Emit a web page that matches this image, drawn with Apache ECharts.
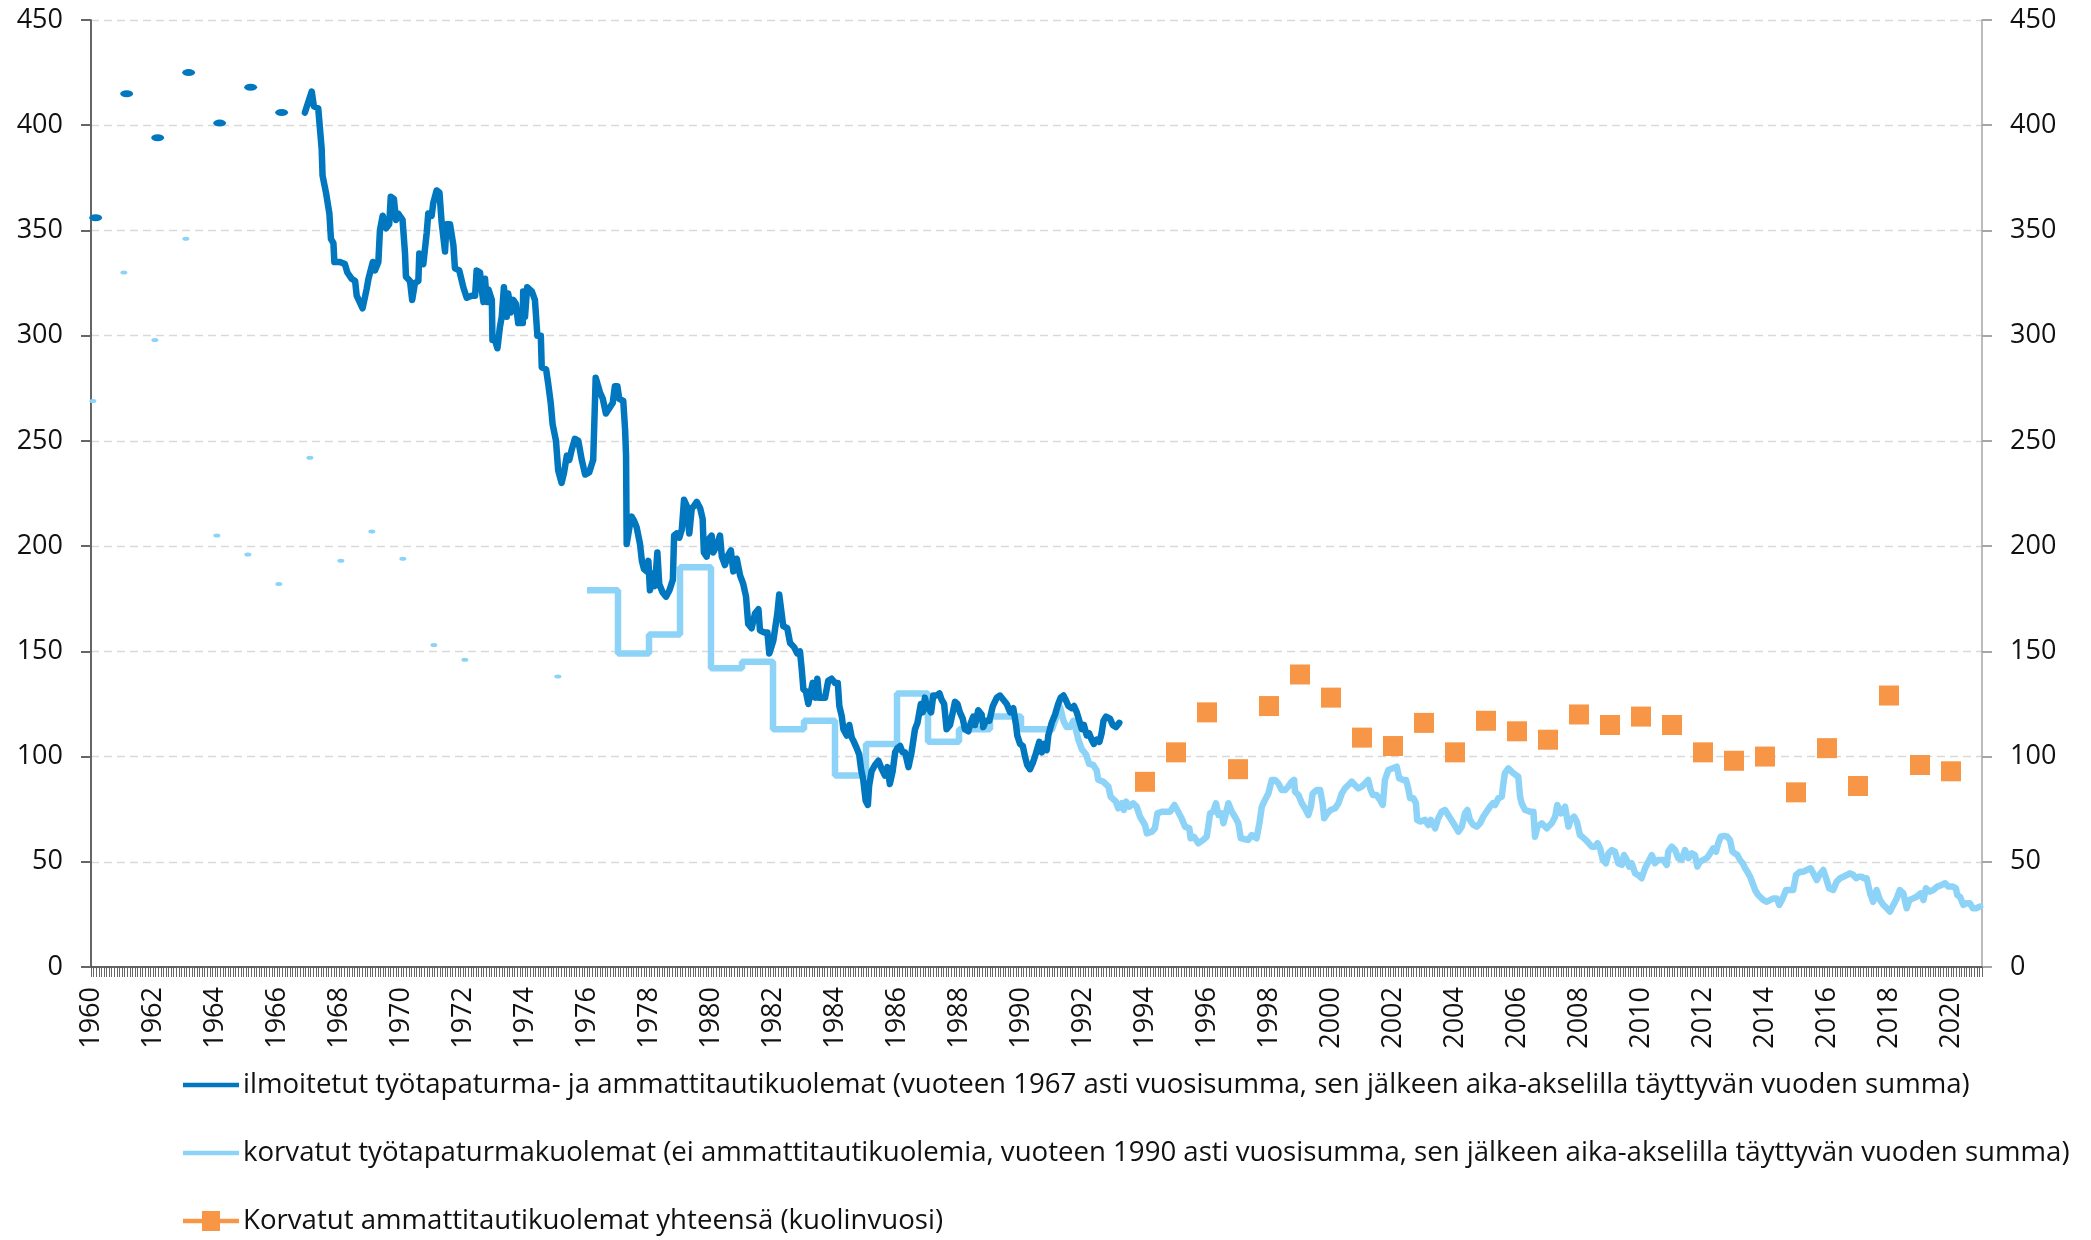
<!DOCTYPE html>
<html>
<head>
<meta charset="utf-8">
<script src="https://cdn.jsdelivr.net/npm/echarts@6/dist/echarts.min.js"></script>
<style>
html, body { margin: 0; padding: 0; background: #fff; }
#chart { width: 2091px; height: 1240px; }
</style>
</head>
<body>
<div id="chart"></div>
<script>
// series names (legend)
var nameDark = 'ilmoitetut työtapaturma- ja ammattitautikuolemat (vuoteen 1967 asti vuosisumma, sen jälkeen aika-akselilla täyttyvän vuoden summa)';
var nameLight = 'korvatut työtapaturmakuolemat (ei ammattitautikuolemia, vuoteen 1990 asti vuosisumma, sen jälkeen aika-akselilla täyttyvän vuoden summa)';
var nameOrange = 'Korvatut ammattitautikuolemat yhteensä (kuolinvuosi)';

// y-axis ticks
var yMin = 0, yMax = 450, yStep = 50;

// x axis: first and last year of the monthly axis
var firstYear = 1960, lastYear = 2021;

// reported deaths, yearly sums until 1966
var darkYears = [1960, 1961, 1962, 1963, 1964, 1965, 1966];
var darkYearValues = [356, 415, 394, 425, 401, 418, 406];

// reported deaths, rolling 12-month sum [year, value]
var darkMonthly = [
  [1966.90,406],[1967.12,416],[1967.19,409],[1967.33,408],[1967.44,389],[1967.47,376],[1967.58,368],[1967.69,358],
  [1967.74,346],[1967.82,344],[1967.85,335],[1968.03,335],[1968.19,334],[1968.27,330],[1968.41,327],[1968.52,326],
  [1968.57,319],[1968.76,313],[1968.89,322],[1968.95,327],[1969.09,335],[1969.16,331],[1969.27,335],[1969.32,350],
  [1969.41,357],[1969.52,351],[1969.62,353],[1969.67,366],[1969.77,365],[1969.84,355],[1969.91,358],[1970.05,355],
  [1970.13,339],[1970.16,328],[1970.29,326],[1970.36,317],[1970.45,325],[1970.56,326],[1970.59,339],[1970.72,334],
  [1970.83,349],[1970.88,358],[1970.99,357],[1971.04,363],[1971.15,369],[1971.24,368],[1971.31,354],[1971.42,340],
  [1971.47,353],[1971.58,353],[1971.69,343],[1971.74,332],[1971.88,331],[1972.01,323],[1972.12,318],[1972.28,319],
  [1972.39,319],[1972.44,331],[1972.55,330],[1972.60,322],[1972.66,316],[1972.71,327],[1972.77,316],[1972.82,322],
  [1972.93,317],[1972.95,298],[1973.03,298],[1973.11,294],[1973.19,304],[1973.25,309],[1973.32,323],[1973.41,309],
  [1973.46,320],[1973.54,311],[1973.62,317],[1973.71,315],[1973.78,306],[1973.93,306],[1973.94,321],[1974.00,309],
  [1974.07,323],[1974.22,321],[1974.32,317],[1974.40,300],[1974.51,300],[1974.54,285],[1974.68,284],[1974.75,277],
  [1974.83,268],[1974.89,258],[1975.00,250],[1975.07,236],[1975.18,230],[1975.26,235],[1975.35,243],[1975.43,241],
  [1975.51,246],[1975.61,251],[1975.72,250],[1975.83,241],[1975.94,234],[1976.07,235],[1976.20,241],[1976.28,280],
  [1976.42,273],[1976.51,270],[1976.61,263],[1976.74,266],[1976.83,268],[1976.90,276],[1976.98,276],[1977.04,270],
  [1977.17,269],[1977.23,255],[1977.26,243],[1977.28,201],[1977.37,209],[1977.44,214],[1977.52,212],[1977.60,209],
  [1977.71,201],[1977.77,193],[1977.84,189],[1977.93,188],[1977.98,193],[1978.03,179],[1978.12,187],[1978.19,181],
  [1978.27,197],[1978.33,182],[1978.44,178],[1978.55,176],[1978.66,179],[1978.77,184],[1978.81,205],[1978.89,206],
  [1978.98,204],[1979.06,208],[1979.13,222],[1979.22,219],[1979.30,206],[1979.38,218],[1979.45,219],[1979.54,221],
  [1979.65,218],[1979.73,213],[1979.77,197],[1979.86,195],[1979.91,203],[1980.02,205],[1980.07,197],[1980.18,200],
  [1980.29,205],[1980.35,195],[1980.45,191],[1980.56,196],[1980.64,198],[1980.72,188],[1980.83,194],[1980.94,186],
  [1981.04,182],[1981.13,176],[1981.20,163],[1981.31,161],[1981.42,168],[1981.53,170],[1981.58,160],[1981.71,159],
  [1981.82,159],[1981.88,149],[1982.01,155],[1982.14,168],[1982.20,177],[1982.33,162],[1982.46,161],[1982.55,154],
  [1982.68,152],[1982.78,149],[1982.87,150],[1982.93,141],[1982.98,132],[1983.06,131],[1983.14,125],[1983.28,135],
  [1983.36,128],[1983.43,137],[1983.49,128],[1983.68,128],[1983.78,136],[1983.89,137],[1984.00,135],[1984.09,135],
  [1984.14,124],[1984.22,119],[1984.27,113],[1984.38,110],[1984.46,115],[1984.54,109],[1984.61,107],[1984.70,104],
  [1984.78,101],[1984.84,94],[1984.91,89],[1984.99,79],[1985.06,77],[1985.10,86],[1985.18,93],[1985.29,96],
  [1985.40,98],[1985.51,94],[1985.61,91],[1985.69,95],[1985.77,87],[1985.86,93],[1985.94,102],[1986.01,104],
  [1986.10,105],[1986.18,102],[1986.26,102],[1986.37,95],[1986.47,102],[1986.58,113],[1986.66,116],[1986.72,121],
  [1986.77,125],[1986.83,121],[1986.90,128],[1986.96,124],[1987.10,121],[1987.17,129],[1987.28,129],[1987.37,130],
  [1987.44,127],[1987.52,125],[1987.60,113],[1987.71,115],[1987.80,121],[1987.87,126],[1987.95,125],[1988.03,121],
  [1988.12,118],[1988.19,113],[1988.30,112],[1988.38,116],[1988.46,119],[1988.52,115],[1988.62,122],[1988.73,120],
  [1988.78,114],[1988.87,117],[1988.98,117],[1989.09,124],[1989.22,128],[1989.32,129],[1989.43,127],[1989.54,125],
  [1989.65,121],[1989.75,123],[1989.84,115],[1989.88,110],[1989.97,106],[1990.06,105],[1990.13,100],[1990.20,96],
  [1990.29,94],[1990.38,97],[1990.45,100],[1990.53,104],[1990.59,107],[1990.67,102],[1990.74,106],[1990.83,103],
  [1990.88,110],[1990.99,116],[1991.10,120],[1991.20,125],[1991.28,128],[1991.37,129],[1991.44,127],[1991.53,124],
  [1991.64,123],[1991.71,124],[1991.80,121],[1991.88,117],[1991.96,113],[1992.03,115],[1992.12,110],[1992.20,111],
  [1992.28,108],[1992.35,106],[1992.44,108],[1992.53,107],[1992.60,111],[1992.66,117],[1992.74,119],[1992.87,118],
  [1992.96,115],[1993.06,114],[1993.17,116]
];

// compensated deaths, yearly sums (1973 and 1974 missing)
var lightYears = [1960, 1961, 1962, 1963, 1964, 1965, 1966, 1967, 1968, 1969, 1970, 1971, 1972, 1975];
var lightYearValues = [269, 330, 298, 346, 205, 196, 182, 242, 193, 207, 194, 153, 146, 138];

// compensated deaths, yearly sums drawn as steps
var stepYears = [1976, 1977, 1978, 1979, 1980, 1981, 1982, 1983, 1984, 1985, 1986, 1987, 1988, 1989, 1990];
var stepValues = [179, 149, 158, 190, 142, 145, 113, 117, 91, 106, 130, 107, 113, 119, 113];

// compensated deaths, rolling 12-month sum [year, value]
var lightMonthly = [
  [1991.00,113],[1991.26,123.5],[1991.37,117],[1991.47,114],[1991.58,114],[1991.69,117],[1991.77,113],[1991.85,108],
  [1991.96,103.5],[1992.10,101],[1992.20,96.5],[1992.33,96],[1992.44,93.5],[1992.49,89],[1992.66,88],[1992.82,85.7],
  [1992.89,81],[1993.06,78.6],[1993.14,75.4],[1993.25,77.8],[1993.32,74.6],[1993.39,78.6],[1993.49,76.2],[1993.62,77.8],
  [1993.73,76.2],[1993.84,71.4],[1994.00,67.5],[1994.06,63.5],[1994.22,64.3],[1994.32,65.9],[1994.40,73],[1994.54,73.8],
  [1994.68,73.8],[1994.81,73.8],[1994.95,77],[1995.04,74.6],[1995.18,70.7],[1995.29,66.7],[1995.43,65.9],[1995.47,61.2],
  [1995.58,61.9],[1995.72,58.8],[1995.88,60.4],[1995.99,61.9],[1996.04,66.7],[1996.10,73],[1996.20,73.8],[1996.29,77.8],
  [1996.37,72.2],[1996.47,73],[1996.53,68.3],[1996.61,73],[1996.69,77.8],[1996.80,73.8],[1996.90,71.4],[1997.01,68.3],
  [1997.09,61.2],[1997.23,60.7],[1997.33,60.4],[1997.44,62.7],[1997.60,61.2],[1997.69,68.3],[1997.77,76.2],[1997.87,79.4],
  [1997.98,82.5],[1998.09,88.9],[1998.19,88.9],[1998.30,87.3],[1998.41,84.1],[1998.52,84.1],[1998.62,85.7],[1998.73,88.1],
  [1998.81,88.9],[1998.84,83.3],[1998.95,81.7],[1999.06,77.8],[1999.16,75.4],[1999.27,72.2],[1999.35,76.2],[1999.41,82.5],
  [1999.54,84.1],[1999.65,84.1],[1999.73,77.8],[1999.78,70.7],[1999.88,73],[1999.99,74.6],[2000.13,75.4],[2000.24,77.8],
  [2000.35,82.5],[2000.45,84.9],[2000.56,86.5],[2000.67,88.1],[2000.77,86.5],[2000.88,84.9],[2000.99,85.7],[2001.10,87.3],
  [2001.20,88.9],[2001.28,84.1],[2001.35,81.7],[2001.47,81.7],[2001.58,79.4],[2001.67,77],[2001.74,88.9],[2001.85,93.6],
  [2001.99,94.4],[2002.12,95.2],[2002.20,89.7],[2002.33,88.9],[2002.42,88.9],[2002.49,84.9],[2002.55,80.2],[2002.66,80.2],
  [2002.74,77.8],[2002.78,69.9],[2002.87,69.1],[2003.03,69.9],[2003.14,67.5],[2003.22,69.9],[2003.36,65.9],[2003.46,70.7],
  [2003.57,73.8],[2003.68,74.6],[2003.78,72.2],[2003.95,68.3],[2004.11,64.3],[2004.22,66.7],[2004.32,73],[2004.40,74.6],
  [2004.48,69.9],[2004.59,67.5],[2004.70,66.7],[2004.81,68.3],[2004.91,71.4],[2005.02,73.8],[2005.13,76.2],[2005.22,77.8],
  [2005.29,77],[2005.40,80.2],[2005.51,80.9],[2005.56,87.3],[2005.61,92.1],[2005.72,94.4],[2005.88,92.1],[2006.04,90.4],
  [2006.10,80.9],[2006.15,77.8],[2006.26,74.6],[2006.42,73.8],[2006.53,73.8],[2006.58,61.9],[2006.66,66.7],[2006.80,68.3],
  [2006.96,65.9],[2007.12,68.3],[2007.23,71.4],[2007.30,77],[2007.41,73],[2007.55,76.2],[2007.66,66.7],[2007.73,69.9],
  [2007.84,71.4],[2007.93,69.1],[2008.03,62.7],[2008.16,61.2],[2008.27,59.6],[2008.41,57.2],[2008.52,57.2],[2008.60,58.8],
  [2008.68,56.4],[2008.77,50.9],[2008.87,49.3],[2008.95,54],[2009.06,55.6],[2009.16,54.8],[2009.27,49.3],[2009.38,48.5],
  [2009.45,53.2],[2009.54,50.9],[2009.62,47.7],[2009.70,49.3],[2009.75,48.5],[2009.81,44.5],[2009.91,43.7],[2010.02,42.2],
  [2010.13,46.9],[2010.24,50],[2010.35,53.2],[2010.45,49.3],[2010.56,50.9],[2010.72,50.9],[2010.83,48.5],[2010.88,54.8],
  [2010.99,57.2],[2011.10,55.6],[2011.20,51.7],[2011.31,50.9],[2011.42,55.6],[2011.53,51.7],[2011.64,54],[2011.74,53.2],
  [2011.82,47.7],[2011.90,50],[2012.01,50.9],[2012.12,51.7],[2012.23,54],[2012.33,56.4],[2012.42,54.8],[2012.49,58.8],
  [2012.57,61.9],[2012.68,62.3],[2012.78,61.9],[2012.87,60.4],[2012.95,54.8],[2013.03,54],[2013.11,53.2],[2013.19,50.9],
  [2013.28,49.3],[2013.36,46.9],[2013.43,45.3],[2013.52,42.9],[2013.60,39.8],[2013.68,36.6],[2013.78,34.2],[2013.95,31.8],
  [2014.06,31],[2014.16,31.8],[2014.27,32.6],[2014.38,32.6],[2014.46,29.5],[2014.57,32.6],[2014.68,36.6],[2014.81,36.6],
  [2014.91,36.6],[2015.00,43.7],[2015.13,45.3],[2015.24,45.3],[2015.35,46.1],[2015.47,46.9],[2015.56,44.5],[2015.67,41.3],
  [2015.75,43.7],[2015.88,46.1],[2015.97,42.2],[2016.07,37.4],[2016.20,36.6],[2016.31,40.5],[2016.42,42.2],[2016.53,42.9],
  [2016.64,43.7],[2016.74,44.5],[2016.85,43.7],[2016.94,42.2],[2017.01,42.9],[2017.12,42.9],[2017.19,42.2],[2017.28,42.2],
  [2017.39,35],[2017.49,31],[2017.60,36.6],[2017.71,31.8],[2017.82,29.5],[2017.93,27.9],[2018.03,26.3],[2018.14,29.5],
  [2018.25,32.6],[2018.35,36.6],[2018.46,35],[2018.57,27.9],[2018.66,31.8],[2018.78,32.6],[2018.89,33.4],[2019.02,35],
  [2019.11,31.8],[2019.19,37.4],[2019.32,35.8],[2019.43,36.6],[2019.56,38.2],[2019.70,39],[2019.81,39.8],[2019.91,38.2],
  [2020.06,38.2],[2020.16,37.4],[2020.20,34.2],[2020.29,33.4],[2020.40,29.5],[2020.51,30.3],[2020.61,30.3],[2020.70,27.9],
  [2020.81,27.9],[2020.94,28.7]
];

// compensated occupational disease deaths by year of death
var orangeYears = [1994, 1995, 1996, 1997, 1998, 1999, 2000, 2001, 2002, 2003, 2004, 2005, 2006, 2007,
  2008, 2009, 2010, 2011, 2012, 2013, 2014, 2015, 2016, 2017, 2018, 2019, 2020];
var orangeValues = [88, 102, 121, 94, 124, 139, 128, 109, 105, 116, 102, 117, 112, 108,
  120, 115, 119, 115, 102, 98, 100, 83, 104, 86, 129, 96, 93];

// monthly categories for the visible time axis
var months = [];
for (var y = firstYear; y <= lastYear; y++) {
  for (var m = 1; m <= 12; m++) {
    if (y === lastYear && m > 1) break;
    months.push(y + '-' + (m < 10 ? '0' + m : m));
  }
}

var darkBlue = '#0077BF';
var lightBlue = '#8DD3F7';
var orange = '#F79646';
var font = 'Open Sans';

// legend icons: plain line, and line with a square marker
var lineIcon = 'path://M0,0H56V4.5H0Z';
var squareIcon = 'path://M0,7.75H19V0H37V7.75H56V12.25H37V20H19V12.25H0Z';

function pairs(xs, vs, shift) {
  var out = [];
  for (var i = 0; i < xs.length; i++) out.push([xs[i] + shift, vs[i]]);
  return out;
}

var stepData = pairs(stepYears, stepValues, 0);
stepData.push(lightMonthly[0]);

var chart = echarts.init(document.getElementById('chart'));

var option = {
  animation: false,
  backgroundColor: '#fff',
  textStyle: { fontFamily: font },
  grid: { left: 91, right: 109, top: 20, bottom: 273, containLabel: false },
  legend: {
    orient: 'vertical',
    left: 178,
    top: 1066,
    itemWidth: 56,
    itemHeight: 20,
    itemGap: 40,
    textStyle: { fontSize: 27.6, color: '#111', fontFamily: font, padding: [0, 0, 0, -1] },
    data: [
      { name: nameDark, icon: lineIcon, itemStyle: { color: darkBlue } },
      { name: nameLight, icon: lineIcon, itemStyle: { color: lightBlue } },
      { name: nameOrange, icon: squareIcon, itemStyle: { color: orange } }
    ]
  },
  xAxis: [
    {
      type: 'category',
      data: months,
      boundaryGap: false,
      axisLine: { lineStyle: { color: '#333', width: 1.5 } },
      axisTick: { show: true, interval: 0, length: 10, lineStyle: { color: '#666', width: 1 } },
      axisLabel: {
        interval: function (i) { return i % 24 === 0; },
        rotate: 90,
        margin: 20,
        fontSize: 27,
        color: '#111',
        formatter: function (v) { return v.slice(0, 4); }
      },
      splitLine: { show: false }
    },
    {
      type: 'value',
      show: false,
      min: firstYear,
      max: lastYear,
      splitLine: { show: false }
    }
  ],
  yAxis: [
    {
      type: 'value',
      min: yMin, max: yMax, interval: yStep,
      axisLine: { show: true, lineStyle: { color: '#333', width: 1.5 } },
      axisTick: { show: true, length: 10, lineStyle: { color: '#666', width: 2 } },
      axisLabel: { margin: 28, fontSize: 27, color: '#111' },
      splitLine: { show: true, lineStyle: { color: '#d9d9d9', width: 1.3, type: [8, 5] } }
    },
    {
      type: 'value',
      position: 'right',
      min: yMin, max: yMax, interval: yStep,
      axisLine: { show: true, lineStyle: { color: '#a6a6a6', width: 1.5 } },
      axisTick: { show: true, length: 10, lineStyle: { color: '#a6a6a6', width: 2 } },
      axisLabel: { margin: 28, fontSize: 27, color: '#111' },
      splitLine: { show: false }
    }
  ],
  series: [
    {
      name: 'light-yearly',
      type: 'scatter',
      xAxisIndex: 1,
      symbol: 'circle',
      symbolSize: [7, 4],
      itemStyle: { color: lightBlue, opacity: 1 },
      data: pairs(lightYears, lightYearValues, 0.06)
    },
    {
      name: 'light-steps',
      type: 'line',
      xAxisIndex: 1,
      step: 'end',
      symbol: 'none',
      lineStyle: { color: lightBlue, width: 6.5 },
      data: stepData
    },
    {
      name: nameLight,
      type: 'line',
      xAxisIndex: 1,
      symbol: 'none',
      color: lightBlue,
      lineStyle: { color: lightBlue, width: 6.5, join: 'round', cap: 'round' },
      data: lightMonthly
    },
    {
      name: 'dark-yearly',
      type: 'scatter',
      xAxisIndex: 1,
      symbol: 'circle',
      symbolSize: [13, 7],
      itemStyle: { color: darkBlue, opacity: 1 },
      data: pairs(darkYears, darkYearValues, 0.15)
    },
    {
      name: nameDark,
      type: 'line',
      xAxisIndex: 1,
      symbol: 'none',
      color: darkBlue,
      lineStyle: { color: darkBlue, width: 6.5, join: 'round', cap: 'round' },
      data: darkMonthly
    },
    {
      name: nameOrange,
      type: 'scatter',
      xAxisIndex: 1,
      symbol: 'rect',
      symbolSize: 20,
      itemStyle: { color: orange, opacity: 1 },
      data: pairs(orangeYears, orangeValues, 0)
    }
  ]
};

chart.setOption(option);
</script>
</body>
</html>
